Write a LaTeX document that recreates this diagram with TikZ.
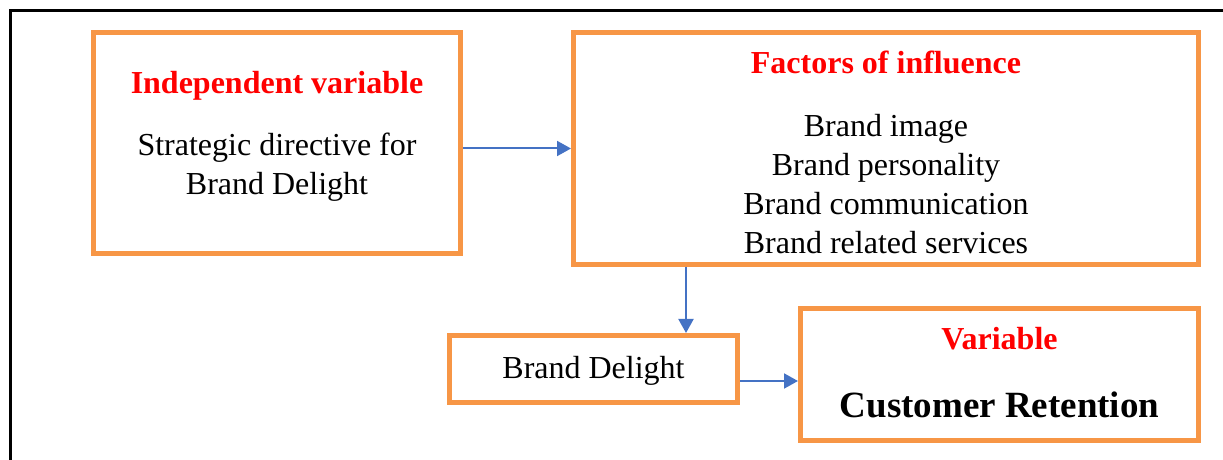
\documentclass[tikz,border=0pt]{standalone}
\usepackage{fontspec}
\setmainfont{Liberation Serif}
\usetikzlibrary{arrows.meta}
\definecolor{boxorange}{RGB}{247,150,70}
\definecolor{arrowblue}{RGB}{68,114,196}

\begin{document}
\begin{tikzpicture}[x=0.5pt, y=-0.5pt,
    every node/.style={font=\fontsize{16}{19.5}\selectfont},
    box/.style={rectangle, draw=boxorange, line width=2.5pt, inner sep=0pt},
    heading/.style={text=red, font=\fontsize{16}{19.5}\selectfont\bfseries},
    lines/.style={align=center, inner sep=0pt},
    link/.style={draw=arrowblue, line width=1pt, -{Triangle[length=7pt, width=7.5pt]}}]

\useasboundingbox (0,0) rectangle (1223,460);

% Frame
\draw[line width=1.5pt] (10,460) -- (10,11) -- (1223,11);

% Boxes
\node[box, minimum width=183.5pt, minimum height=110.5pt] (indep) at (277,143) {};
\node[box, minimum width=312.5pt, minimum height=116pt] (factors) at (886,148.5) {};
\node[box, minimum width=144pt, minimum height=33.5pt] (delight) at (593.5,369) {};
\node[box, minimum width=199pt, minimum height=66pt] (retention) at (999.5,374.5) {};

% Texts
\node[heading, anchor=base] (indeptitle) at (277,94) {Independent variable};
\node[lines, anchor=center] (indeptext) at (277,167) {Strategic directive for\\Brand Delight};
\node[heading, anchor=base] (factorstitle) at (886,74) {Factors of influence};
\node[lines, anchor=center] (factorstext) at (886,184) {Brand image\\Brand personality\\Brand communication\\Brand related services};
\node[anchor=base] (delighttext) at (593.5,379) {Brand Delight};
\node[heading, anchor=base] (retentiontitle) at (999.5,350) {Variable};
\node[anchor=base, font=\fontsize{18.5}{22}\selectfont\bfseries] (retentiontext) at (999.5,417) {Customer Retention};

% Arrows
\coordinate (split) at (686,267);
\draw[link] (indep.east |- factors.west) -- (factors.west);
\draw[link] (factors.south -| split) -- (delight.north -| split);
\draw[link] ([yshift=-6pt]delight.east) -- ([yshift=-6pt]delight.east -| retention.west);

\end{tikzpicture}
\end{document}
